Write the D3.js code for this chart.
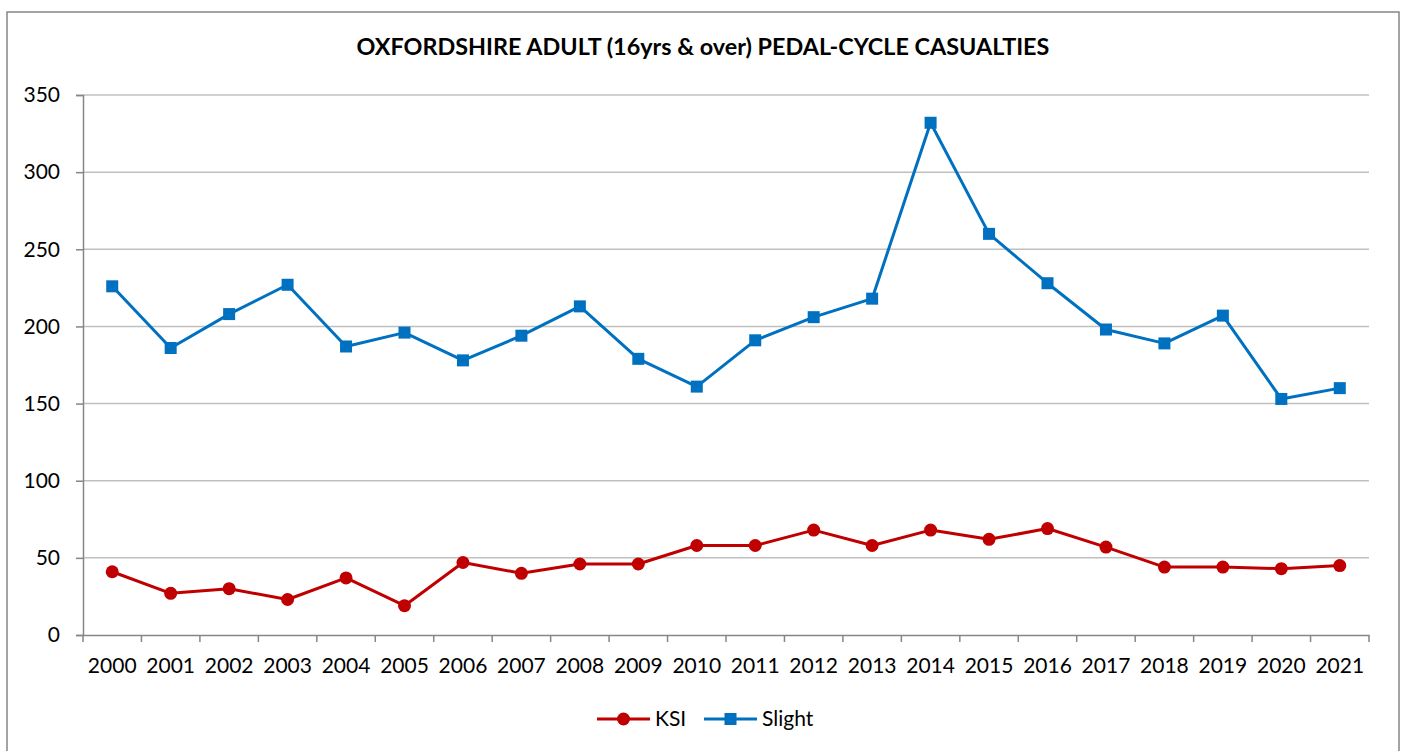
<!DOCTYPE html>
<html><head><meta charset="utf-8">
<script src="https://cdn.jsdelivr.net/npm/d3@7"></script>
<style>html,body{margin:0;padding:0;background:#fff;overflow:hidden}</style>
</head><body>
<svg id="c" width="1402" height="751"></svg>
<script>
const years = ["2000","2001","2002","2003","2004","2005","2006","2007","2008","2009","2010","2011","2012","2013","2014","2015","2016","2017","2018","2019","2020","2021"];
const ksi = [41,27,30,23,37,19,47,40,46,46,58,58,68,58,68,62,69,57,44,44,43,45];
const slight = [226,186,208,227,187,196,178,194,213,179,161,191,206,218,332,260,228,198,189,207,153,160];
const yTicks = [0,50,100,150,200,250,300,350];
const seriesNames = ["KSI","Slight"];
const colors = ["#C00000","#0070C0"];
const title = "OXFORDSHIRE ADULT (16yrs & over) PEDAL-CYCLE CASUALTIES";

const font = "Lato, 'Open Sans', sans-serif";
const svg = d3.select("#c");
const L = 83, R = 1369, T = 95, B = 635;

svg.append("rect").attr("x",7).attr("y",12).attr("width",1392).attr("height",760)
  .attr("fill","#fff").attr("stroke","#868686").attr("stroke-width",1.5);

const x = d3.scaleBand().domain(years).range([L,R]);
const y = d3.scaleLinear().domain([0,350]).range([B,T]);

// gridlines
svg.append("g").selectAll("line").data(yTicks.filter(d=>d>0)).join("line")
  .attr("x1",L).attr("x2",R).attr("y1",d=>y(d)).attr("y2",d=>y(d))
  .attr("stroke","#C0C0C0").attr("stroke-width",1.5);

// y axis
const ya = svg.append("g").attr("transform",`translate(${L},0)`)
  .call(d3.axisLeft(y).tickValues(yTicks).tickSize(7).tickPadding(16));
ya.select(".domain").attr("stroke","#868686").attr("stroke-width",1.5);
ya.selectAll(".tick line").attr("stroke","#868686").attr("stroke-width",1.5);
ya.selectAll("text").attr("font-family",font).attr("font-size",21).attr("fill","#000");

// x axis
const xa = svg.append("g").attr("transform",`translate(0,${B})`)
  .call(d3.axisBottom(x).tickSize(0).tickPadding(23));
xa.select(".domain").attr("stroke","#868686").attr("stroke-width",1.5);
xa.selectAll("text").attr("font-family",font).attr("font-size",21).attr("fill","#000");
svg.append("g").selectAll("line").data(years.concat(["end"])).join("line")
  .attr("x1",(d,i)=>L + i*x.step()).attr("x2",(d,i)=>L + i*x.step())
  .attr("y1",B).attr("y2",B+7).attr("stroke","#868686").attr("stroke-width",1.5);

const cx = d => x(d) + x.bandwidth()/2;
const line = d3.line().x((d,i)=>cx(years[i])).y(d=>y(d));

[ksi, slight].forEach((data,k)=>{
  svg.append("path").datum(data).attr("d",line).attr("fill","none")
    .attr("stroke",colors[k]).attr("stroke-width",3).attr("stroke-linejoin","round");
  const g = svg.append("g");
  if (k===0) {
    g.selectAll("circle").data(data).join("circle")
      .attr("cx",(d,i)=>cx(years[i])).attr("cy",d=>y(d)).attr("r",6.5).attr("fill",colors[k]);
  } else {
    g.selectAll("rect").data(data).join("rect")
      .attr("x",(d,i)=>cx(years[i])-6).attr("y",d=>y(d)-6).attr("width",12).attr("height",12).attr("fill",colors[k]);
  }
});

// title
const t = svg.append("text").attr("x",703).attr("y",55).attr("text-anchor","middle")
  .attr("font-family",font).attr("font-weight","bold").attr("font-size",20).text(title);
const w = t.node().getComputedTextLength();
t.attr("font-size", 20*693/w);

// legend
const ly = 719;
const leg = [{x0:597,x1:650,tx:655},{x0:704,x1:757,tx:762}];
leg.forEach((p,k)=>{
  svg.append("line").attr("x1",p.x0).attr("x2",p.x1).attr("y1",ly).attr("y2",ly)
    .attr("stroke",colors[k]).attr("stroke-width",3);
  const m = (p.x0+p.x1)/2;
  if (k===0) svg.append("circle").attr("cx",m).attr("cy",ly).attr("r",6.5).attr("fill",colors[k]);
  else svg.append("rect").attr("x",m-6).attr("y",ly-6).attr("width",12).attr("height",12).attr("fill",colors[k]);
  svg.append("text").attr("x",p.tx).attr("y",ly).attr("dy","0.35em")
    .attr("font-family",font).attr("font-size",21).text(seriesNames[k]);
});
</script>
</body></html>
